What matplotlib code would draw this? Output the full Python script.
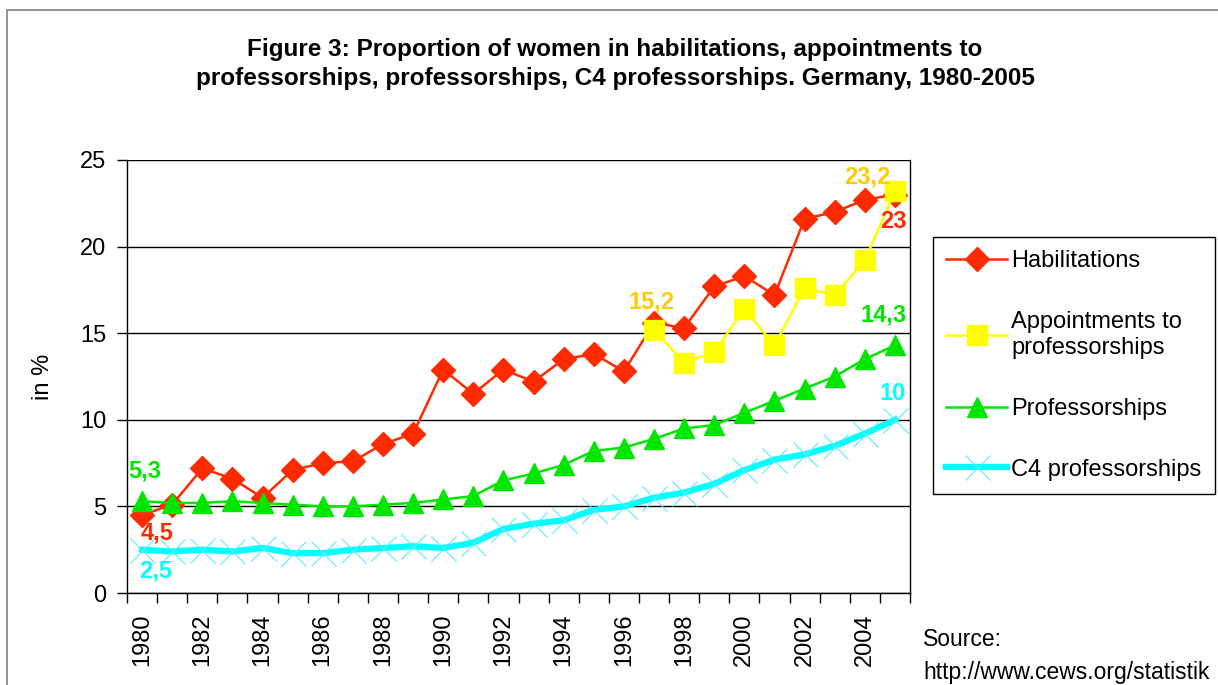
import matplotlib.pyplot as plt
from matplotlib.patches import Rectangle

plt.rcParams['font.family'] = ['Liberation Sans', 'DejaVu Sans']

# data
years = list(range(1980, 2006))
habilitations = [4.5, 5.1, 7.2, 6.6, 5.5, 7.1, 7.5, 7.6, 8.6, 9.2, 12.9, 11.5, 12.9,
                 12.2, 13.5, 13.8, 12.8, 15.6, 15.3, 17.7, 18.3, 17.2, 21.6, 22.0, 22.7, 23.0]
appointment_years = list(range(1997, 2006))
appointments = [15.2, 13.3, 13.9, 16.4, 14.3, 17.6, 17.2, 19.2, 23.2]
professorships = [5.3, 5.2, 5.2, 5.3, 5.2, 5.1, 5.0, 5.0, 5.1, 5.2, 5.4, 5.6, 6.5,
                  6.9, 7.4, 8.2, 8.4, 8.9, 9.5, 9.7, 10.4, 11.1, 11.8, 12.5, 13.5, 14.3]
c4 = [2.5, 2.4, 2.5, 2.4, 2.6, 2.3, 2.3, 2.5, 2.6, 2.7, 2.6, 2.9, 3.7,
      4.0, 4.2, 4.8, 5.0, 5.5, 5.8, 6.3, 7.1, 7.7, 8.0, 8.5, 9.2, 10.0]

# (year, value, text, colour, dx px, dy px)
point_labels = [
    (1980, 5.3, '5,3', '#00E600', 3, 30),
    (1980, 4.5, '4,5', '#FF2A00', 15, -18),
    (1980, 2.5, '2,5', '#00FFFF', 14, -21),
    (1997, 15.2, '15,2', '#FFCC00', -2, 28),
    (2005, 23.2, '23,2', '#FFCC00', -28, 14),
    (2005, 23.0, '23', '#FF2A00', -2, -27),
    (2005, 14.3, '14,3', '#00E600', -11, 30),
    (2005, 10.0, '10', '#00FFFF', -2, 26),
]

red = '#FF2A00'
yellow = '#FFFF00'
green = '#00E600'
cyan = '#00FFFF'

fig = plt.figure(figsize=(12.18, 6.85), dpi=100)
ax = fig.add_axes([127 / 1218, 1 - 593 / 685, (910 - 127) / 1218, (593 - 160) / 685])

ax.plot(years, habilitations, color=red, lw=1.8, marker='D', ms=12, mec=red, label='Habilitations')
ax.plot(appointment_years, appointments, color=yellow, lw=1.8, marker='s', ms=14, mec=yellow,
        label='Appointments to\nprofessorships')
ax.plot(years, professorships, color=green, lw=1.8, marker='^', ms=15, mec=green, label='Professorships')
ax.plot(years, c4, color=cyan, lw=4.5, marker='x', ms=18, mew=0.8, mec='#55EEFF',
        label='C4 professorships')

for yr, val, txt, col, dx, dy in point_labels:
    ax.annotate(txt, xy=(yr, val), xytext=(dx, dy), textcoords='offset pixels',
                ha='center', va='center', color=col, fontsize=17, fontweight='bold')

ax.set_xlim(1979.5, 2005.5)
ax.set_ylim(0, 25)
ax.set_yticks([0, 5, 10, 15, 20, 25])
ax.yaxis.grid(True, color='black', lw=1)
ax.set_axisbelow(True)

boundaries = [y - 0.5 for y in years] + [2005.5]
ax.set_xticks(boundaries)
ax.set_xticklabels([])
ax.set_xticks(list(range(1980, 2006, 2)), minor=True)
ax.set_xticklabels([str(y) for y in range(1980, 2006, 2)], minor=True, rotation=90)
ax.tick_params(axis='x', which='major', length=7, width=1)
ax.tick_params(axis='x', which='minor', length=0, labelsize=17, pad=15)
ax.tick_params(axis='y', length=7, width=1, labelsize=17, pad=8)

for side in ['left', 'bottom', 'right']:
    ax.spines[side].set_color('black')
    ax.spines[side].set_linewidth(1)
ax.spines['top'].set_visible(False)

ax.set_ylabel('in %', fontsize=17, labelpad=19)

fig.text(0.505, 0.907, 'Figure 3: Proportion of women in habilitations, appointments to\n'
         'professorships, professorships, C4 professorships. Germany, 1980-2005',
         ha='center', va='center', fontsize=17.5, fontweight='bold', linespacing=1.35)

fig.legend(loc='upper left', bbox_to_anchor=(933 / 1218, 1 - 237 / 685), borderaxespad=0,
           fontsize=17, frameon=True, fancybox=False, edgecolor='black', framealpha=1,
           borderpad=0.57, labelspacing=1.65, handlelength=2.55, handletextpad=0.2)

fig.text(923 / 1218, 1 - 640 / 685, 'Source:', fontsize=16.5, va='center')
fig.text(923 / 1218, 1 - 672 / 685, 'http://www.cews.org/statistik', fontsize=16.5, va='center')

fig.patches.append(Rectangle((7 / 1218, -0.05), 1.05, 1 - 10 / 685 + 0.05, transform=fig.transFigure,
                             fill=False, edgecolor='#808080', lw=1.2))

fig.savefig('out.png', dpi=100)
